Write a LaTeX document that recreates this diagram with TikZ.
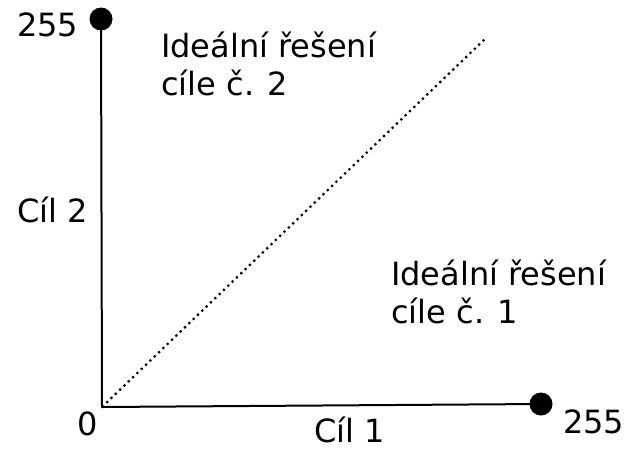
\documentclass[tikz,border=0pt]{standalone}
\usepackage{fontspec}
\setmainfont{DejaVu Sans}
\begin{document}
\begin{tikzpicture}[x=1pt,y=-1pt,
  lbl/.style={inner sep=0pt, anchor=base west, font=\fontsize{32}{38}\selectfont, align=left},
  dot/.style={circle, fill=black, inner sep=0pt, minimum size=23pt},
  axis/.style={line width=2pt},
  diag/.style={line width=2.2pt, dash pattern=on 2.2pt off 3.8pt}]
\useasboundingbox (0,0) rectangle (629,450);
\coordinate (O) at (102,407);
\node[dot] (top) at (101,19) {};
\node[dot] (right) at (541,404) {};
\coordinate (E) at (486,38);
\draw[axis] (top.center) -- (O) -- (right.center);
\draw[diag] (O) -- (E);
\node[lbl] (t255) at (17,36) {255};
\node[lbl] (r255) at (563,433) {255};
\node[lbl] (zero) at (77,435) {0};
\node[lbl] (c2) at (17,222) {Cíl 2};
\node[lbl] (c1) at (314,442) {Cíl 1};
\node[lbl] (i2) at (161,95) {Ideální řešení\\cíle č. 2};
\node[lbl] (i1) at (391,323) {Ideální řešení\\cíle č. 1};
\end{tikzpicture}
\end{document}
